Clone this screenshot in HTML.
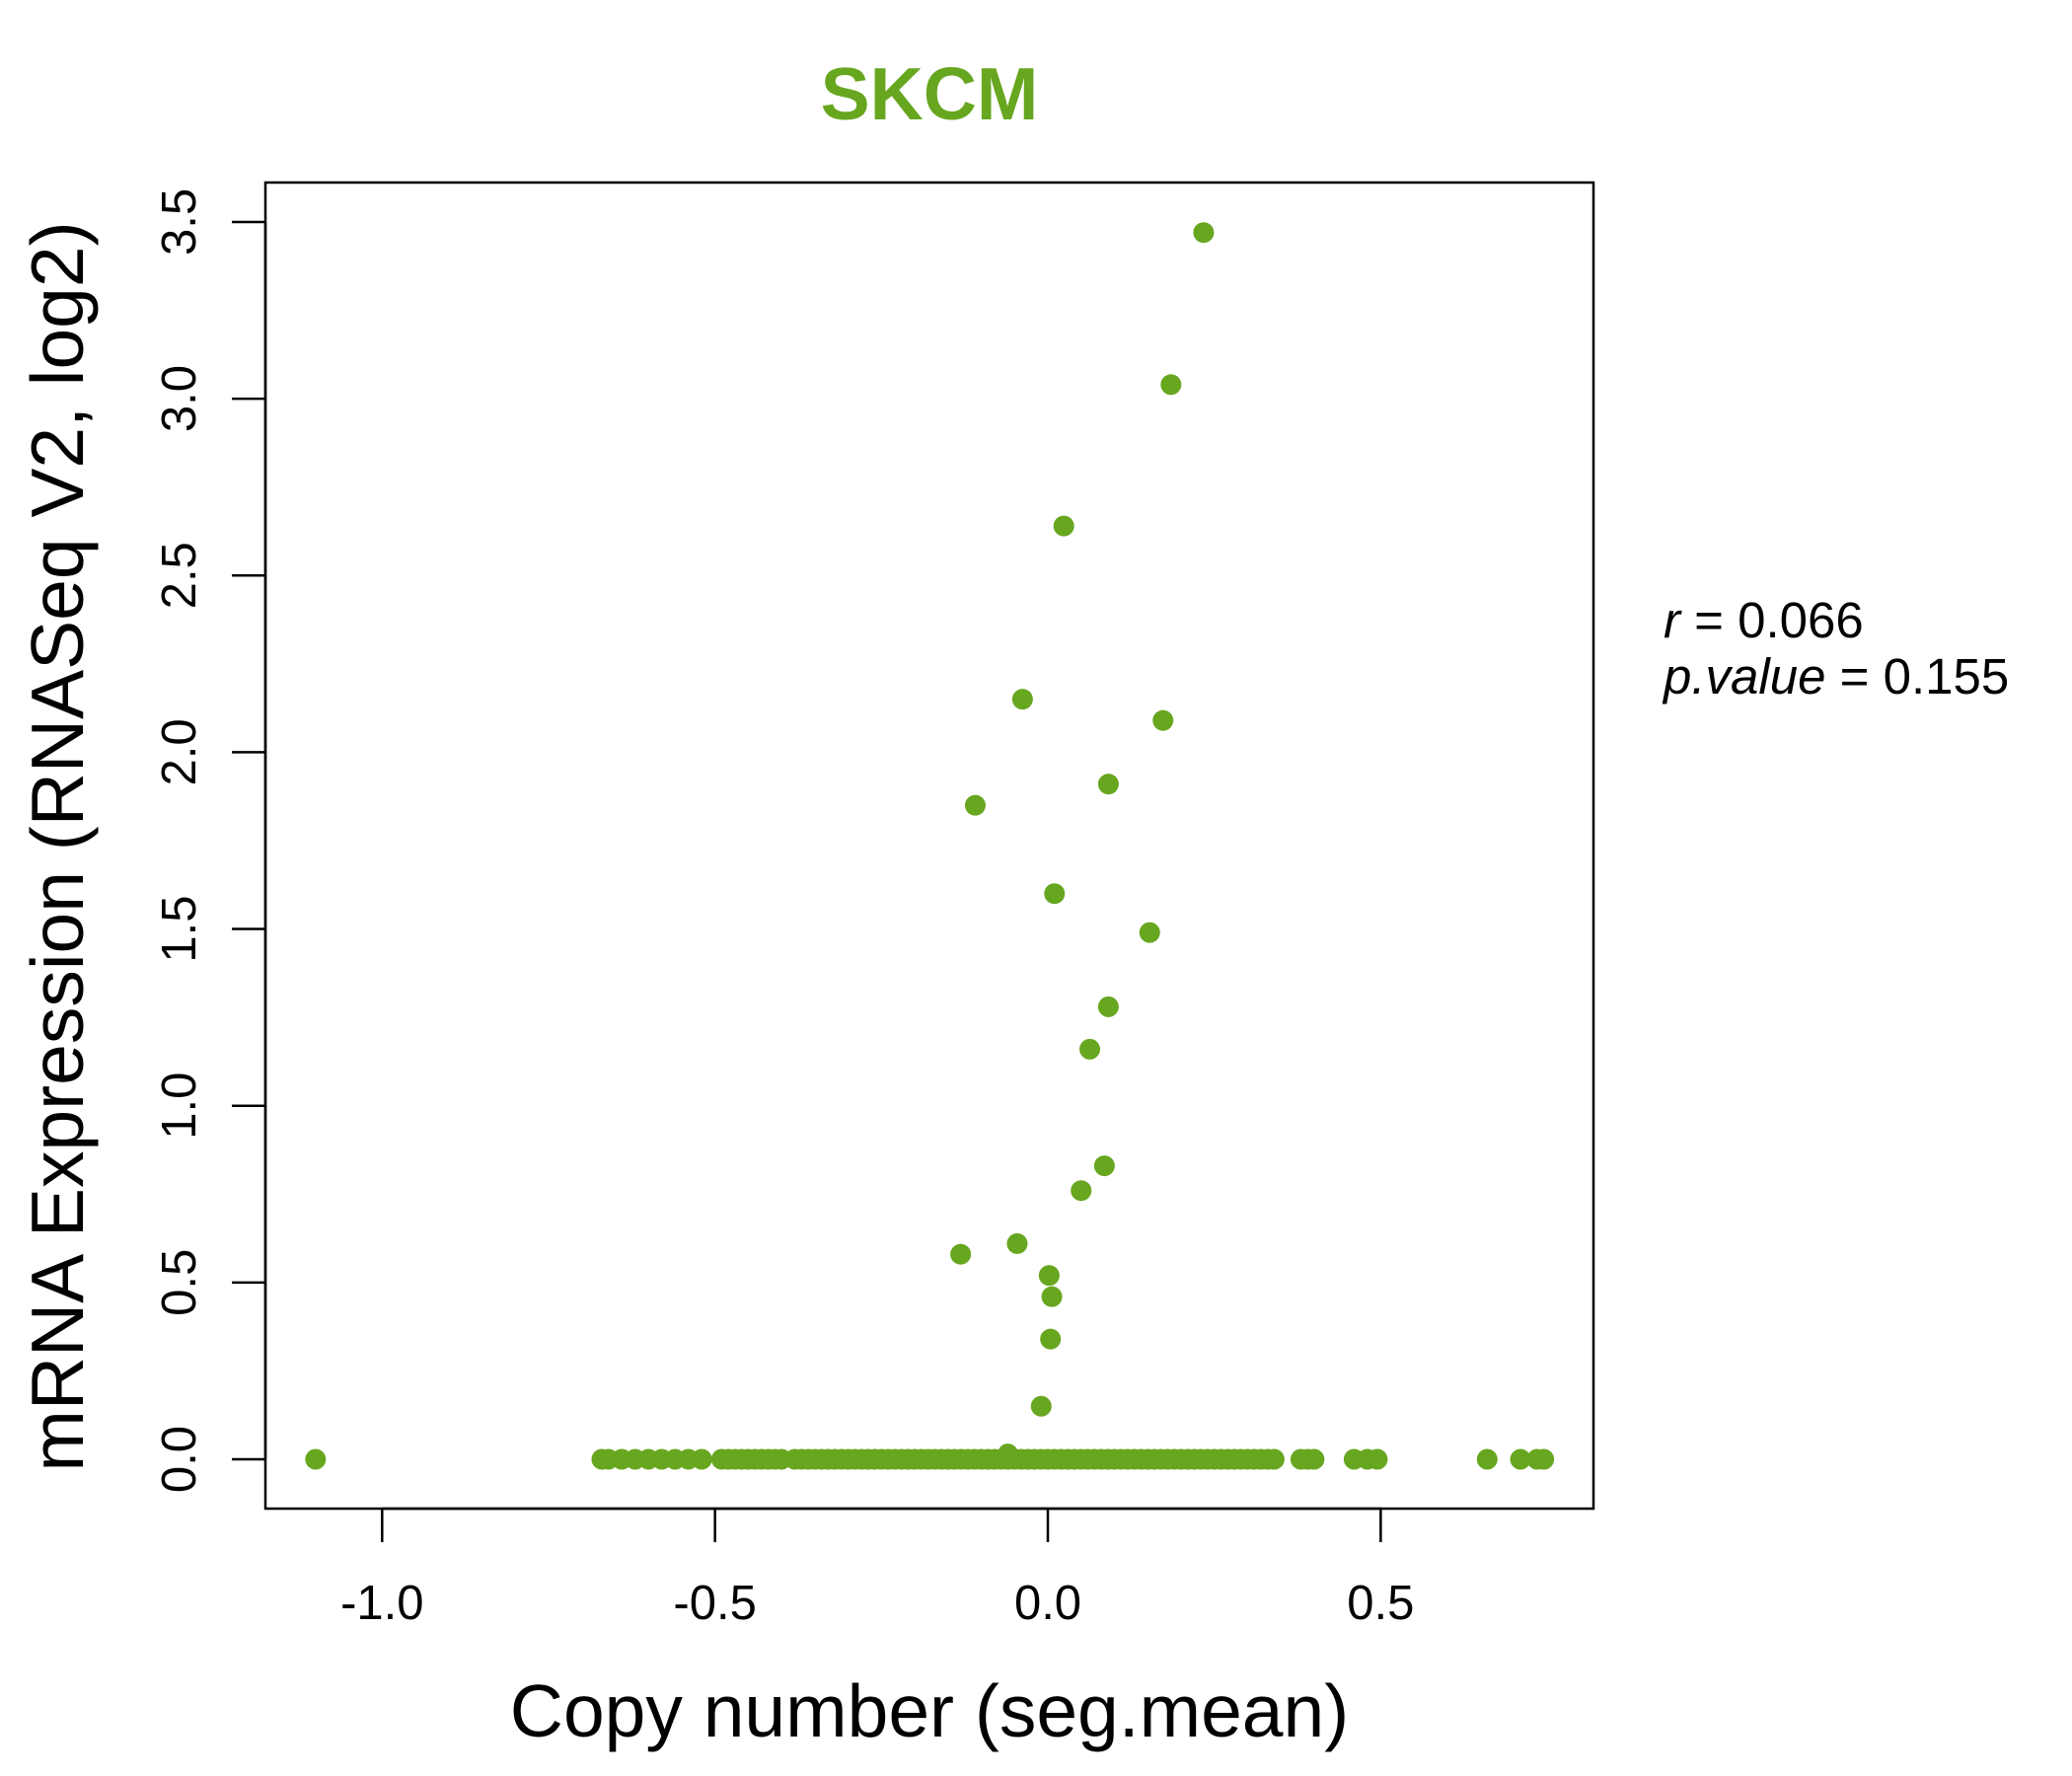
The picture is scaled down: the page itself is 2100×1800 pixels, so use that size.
<!DOCTYPE html>
<html><head><meta charset="utf-8"><style>
html,body{margin:0;padding:0;background:#fff;}
svg{display:block;font-family:"Liberation Sans",sans-serif;}
</style></head><body>
<svg id="chart" width="2100" height="1800" viewBox="0 0 2100 1800" xmlns="http://www.w3.org/2000/svg">
<text x="942" y="121" text-anchor="middle" font-size="75" font-weight="bold" fill="#67A61F">SKCM</text>
<rect x="269" y="185" width="1346" height="1344" fill="none" stroke="#000" stroke-width="2.5"/>
<g id="xaxis"></g>
<g id="yaxis"></g>
<g id="points"></g>
<text x="942" y="1760" text-anchor="middle" font-size="75">Copy number (seg.mean)</text>
<text transform="translate(84,858) rotate(-90)" text-anchor="middle" font-size="75">mRNA Expression (RNASeq V2, log2)</text>
<text x="1686" y="646" font-size="51"><tspan font-style="italic">r</tspan> = 0.066</text>
<text x="1686" y="703" font-size="51"><tspan font-style="italic">p.value</tspan> = 0.155</text>
</svg>
<script>
const xTicks = [-1.0, -0.5, 0.0, 0.5];
const xTickLabels = ["-1.0", "-0.5", "0.0", "0.5"];
const yTicks = [0, 0.5, 1.0, 1.5, 2.0, 2.5, 3.0, 3.5];
const yTickLabels = ["0.0", "0.5", "1.0", "1.5", "2.0", "2.5", "3.0", "3.5"];
const upperX = [0.234, 0.185, 0.024, -0.038, 0.173, -0.109, 0.091, 0.010, 0.153, 0.091, 0.063, 0.085, 0.050, -0.131, -0.046, 0.002, 0.006, 0.004, -0.010, -0.060];
const upperY = [3.47, 3.04, 2.64, 2.15, 2.09, 1.85, 1.91, 1.60, 1.49, 1.28, 1.16, 0.83, 0.76, 0.58, 0.61, 0.52, 0.46, 0.34, 0.15, 0.015];
const zeroX = [-1.10, -0.67, -0.66, -0.64, -0.62, -0.60, -0.58, -0.56, -0.54, -0.52, -0.49, -0.48, -0.47, -0.46, -0.45, -0.44, -0.43, -0.42, -0.41, -0.40, -0.38, -0.37, -0.36, -0.35, -0.34, -0.33, -0.32, -0.31, -0.30, -0.29, -0.28, -0.27, -0.26, -0.25, -0.24, -0.23, -0.22, -0.21, -0.20, -0.19, -0.18, -0.17, -0.16, -0.15, -0.14, -0.13, -0.12, -0.11, -0.10, -0.09, -0.08, -0.07, -0.06, -0.05, -0.04, -0.03, -0.02, -0.01, 0.00, 0.01, 0.02, 0.03, 0.04, 0.05, 0.06, 0.07, 0.08, 0.09, 0.10, 0.11, 0.12, 0.13, 0.14, 0.15, 0.16, 0.17, 0.18, 0.19, 0.20, 0.21, 0.22, 0.23, 0.24, 0.25, 0.26, 0.27, 0.28, 0.29, 0.30, 0.31, 0.32, 0.33, 0.34, 0.38, 0.39, 0.40, 0.46, 0.48, 0.495, 0.66, 0.71, 0.735, 0.745];
const zeroY = zeroX.map(() => 0);

const NS = "http://www.w3.org/2000/svg";
function sx(v){ return 1062 + v * 674.7; }
function sy(v){ return 1479 - v * 358.3; }

const xa = document.getElementById("xaxis");
const ya = document.getElementById("yaxis");
const pts = document.getElementById("points");

const xl = document.createElementNS(NS, "line");
xl.setAttribute("x1", sx(xTicks[0])); xl.setAttribute("x2", sx(xTicks[xTicks.length-1]));
xl.setAttribute("y1", 1529); xl.setAttribute("y2", 1529);
xl.setAttribute("stroke", "#000"); xl.setAttribute("stroke-width", "2.5");


xa.appendChild(xl);
xTicks.forEach((t, i) => {
  const l = document.createElementNS(NS, "line");
  l.setAttribute("x1", sx(t)); l.setAttribute("x2", sx(t));
  l.setAttribute("y1", 1529); l.setAttribute("y2", 1563);
  l.setAttribute("stroke", "#000"); l.setAttribute("stroke-width", "2.5");
  
  
  xa.appendChild(l);
  const tx = document.createElementNS(NS, "text");
  tx.setAttribute("x", sx(t)); tx.setAttribute("y", 1641);
  tx.setAttribute("text-anchor", "middle"); tx.setAttribute("font-size", "49");
  tx.textContent = xTickLabels[i];
  
  
  xa.appendChild(tx);
});

const yl = document.createElementNS(NS, "line");
yl.setAttribute("x1", 269); yl.setAttribute("x2", 269);
yl.setAttribute("y1", sy(yTicks[0])); yl.setAttribute("y2", sy(yTicks[yTicks.length-1]));
yl.setAttribute("stroke", "#000"); yl.setAttribute("stroke-width", "2.5");


ya.appendChild(yl);
yTicks.forEach((t, i) => {
  const l = document.createElementNS(NS, "line");
  l.setAttribute("x1", 235); l.setAttribute("x2", 269);
  l.setAttribute("y1", sy(t)); l.setAttribute("y2", sy(t));
  l.setAttribute("stroke", "#000"); l.setAttribute("stroke-width", "2.5");
  
  
  ya.appendChild(l);
  const tx = document.createElementNS(NS, "text");
  tx.setAttribute("transform", "translate(198," + sy(t) + ") rotate(-90)");
  tx.setAttribute("text-anchor", "middle"); tx.setAttribute("font-size", "49");
  tx.textContent = yTickLabels[i];
  
  
  ya.appendChild(tx);
});

function addPoints(xs, ys){
  xs.forEach((x, i) => {
    const c = document.createElementNS(NS, "circle");
    c.setAttribute("cx", sx(x)); c.setAttribute("cy", sy(ys[i]));
    c.setAttribute("r", 10.5); c.setAttribute("fill", "#67A61F");
    
    
    pts.appendChild(c);
  });
}
addPoints(zeroX, zeroY);
addPoints(upperX, upperY);
</script>
</body></html>
